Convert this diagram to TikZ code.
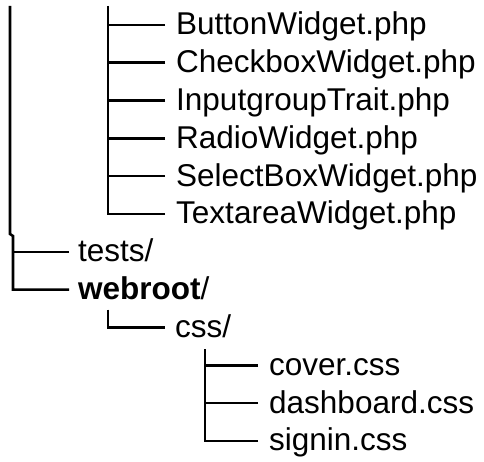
\documentclass[tikz,border=0pt]{standalone}
\usepackage{fontspec}
\setmainfont{Liberation Sans}

\begin{document}
\begin{tikzpicture}[x=1pt, y=-1pt,
    file/.style={anchor=base west, inner sep=0pt, font=\fontsize{31.5}{37}\selectfont},
    edge/.style={line width=2.6pt}]
    \useasboundingbox (0,0) rectangle (484,462);
    \coordinate (outer-top) at (10,6);
    \coordinate (inner-top) at (108,6);

    % widget files
    \foreach \name [count=\i] in {ButtonWidget,CheckboxWidget,InputgroupTrait,RadioWidget,SelectBoxWidget,TextareaWidget} {
        \node[file] (w\i) at (176, {35+37.8*(\i-1)}) {\name.php};
        \draw[edge] ([shift={(-11pt,10pt)}]w\i.base west) -- ++(-57pt,0pt);
    }
    \draw[edge] (inner-top) |- ([shift={(-11pt,10pt)}]w6.base west);

    % top level
    \node[file] (tests) at (78,261.8) {tests/};
    \node[file] (webroot) at (78,299.6) {\textbf{webroot}/};
    \draw[edge] ([shift={(-9pt,10pt)}]tests.base west) -- ++(-56pt,0pt);
    \draw[edge] (outer-top) -- ++(0,228) -- ++(3,2) |- ([shift={(-9pt,10pt)}]webroot.base west);

    % css folder
    \node[file] (css) at (175,337.4) {css/};
    \draw[edge] ([shift={(30pt,-10pt)}]webroot.base west) |- ([shift={(-10pt,10pt)}]css.base west);

    \foreach \name [count=\i] in {cover,dashboard,signin} {
        \node[file] (c\i) at (269, {375.2+37.8*(\i-1)}) {\name.css};
        \draw[edge] ([shift={(-11pt,10pt)}]c\i.base west) -- ++(-53pt,0pt);
    }
    \draw[edge] ([shift={(30pt,-12pt)}]css.base west) |- ([shift={(-11pt,10pt)}]c3.base west);
\end{tikzpicture}
\end{document}
